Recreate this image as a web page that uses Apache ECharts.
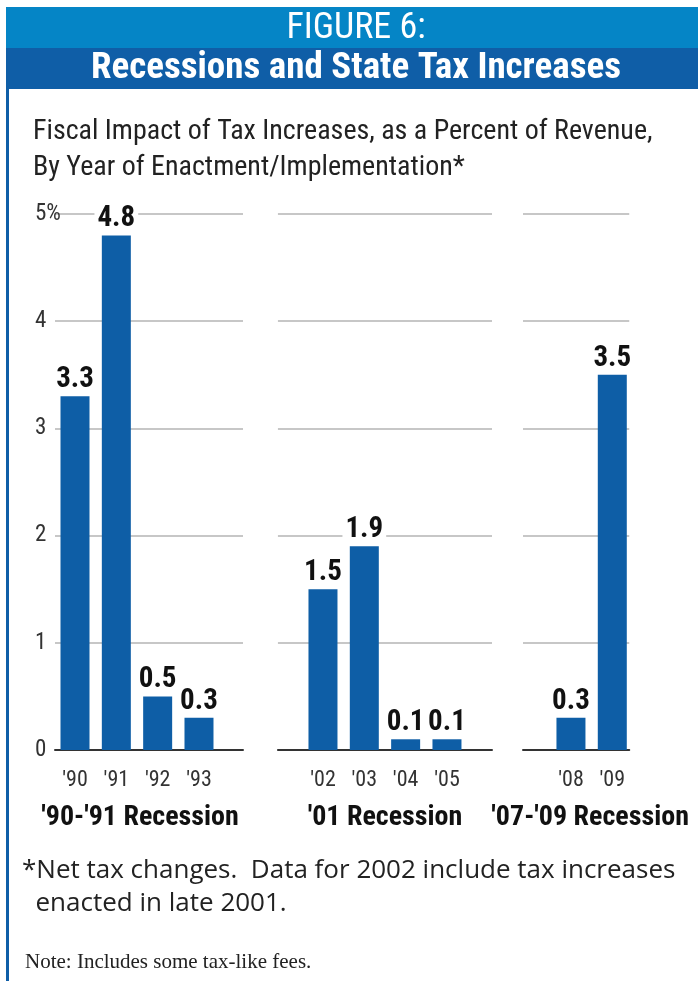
<!DOCTYPE html>
<html>
<head>
<meta charset="utf-8">
<script src="https://cdn.jsdelivr.net/npm/echarts@6/dist/echarts.min.js"></script>
<style>
  html, body { margin: 0; padding: 0; background: #fff; }
  #chart { width: 698px; height: 981px; }
</style>
</head>
<body>
<div id="chart"></div>
<script>
// Recession periods and the enactment years within each
const recessions = ["'90-'91 Recession", "'01 Recession", "'07-'09 Recession"];
const yearsEarly90s = ["'90", "'91", "'92", "'93"];
const years2001 = ["'02", "'03", "'04", "'05"];
const yearsGreat = ["'08", "'09"];

// Fiscal impact of tax increases, % of revenue
const impactEarly90s = [3.3, 4.8, 0.5, 0.3];
const impact2001 = [1.5, 1.9, 0.1, 0.1];
const impactGreat = [0.3, 3.5];

// Value-axis tick labels
const yTicks = [0, 1, 2, 3, 4, 5];

const COND = "'Roboto Condensed', 'DejaVu Sans Condensed', sans-serif";
const SANS = "'Open Sans', Roboto, 'Liberation Sans', sans-serif";
const BAR_COLOR = '#0E5EA6';
const FRAME_BLUE = '#0F5EA7';

// All panels share one slot scale (one slot per year, two empty slots between recessions);
// each panel shows a window of that scale.
const SLOT_PX = 41.33, SLOT0_PX = 75;
const panels = [
  { name: recessions[0], years: yearsEarly90s, values: impactEarly90s, firstSlot: 0,  range: [-0.484, 4.065], namePad: [0, 18, 0, 0] },
  { name: recessions[1], years: years2001,     values: impact2001,     firstSlot: 6,  range: [4.91, 10.09],   namePad: [0, 0, 0, 0] },
  { name: recessions[2], years: yearsGreat,    values: impactGreat,    firstSlot: 12, range: [10.84, 13.41],  namePad: [0, 0, 0, 28] }
];

const GRID_TOP = 214, GRID_BOTTOM = 231;
const HEADER_CENTER_X = 356;

const grids = [], xAxes = [], yAxes = [], series = [];
panels.forEach((p, k) => {
  const slots = p.years.map((_, i) => p.firstSlot + i);
  const labelBySlot = {};
  slots.forEach((s, i) => { labelBySlot[s] = p.years[i]; });

  grids.push({
    left: SLOT0_PX + SLOT_PX * p.range[0],
    width: SLOT_PX * (p.range[1] - p.range[0]),
    top: GRID_TOP,
    bottom: GRID_BOTTOM,
    containLabel: false,
    outerBoundsMode: 'none'
  });

  xAxes.push({
    type: 'value',
    gridIndex: k,
    min: p.range[0],
    max: p.range[1],
    splitLine: { show: false },
    axisTick: { show: false },
    axisLine: { show: true, onZero: true, lineStyle: { color: '#333', width: 2 } },
    axisLabel: {
      customValues: slots,
      formatter: v => labelBySlot[v] || '',
      margin: 19,
      fontFamily: COND,
      fontSize: 22,
      color: '#333'
    },
    name: p.name,
    nameLocation: 'middle',
    nameGap: 54,
    nameTextStyle: {
      fontFamily: COND,
      fontSize: 28,
      fontWeight: 'bold',
      color: '#111',
      padding: p.namePad
    }
  });

  yAxes.push({
    type: 'value',
    gridIndex: k,
    min: yTicks[0],
    max: yTicks[yTicks.length - 1],
    interval: 1,
    axisLine: { show: false },
    axisTick: { show: false },
    splitLine: { show: true, lineStyle: { color: '#b4b4b4', width: 1.5 } },
    axisLabel: {
      show: k === 0,
      align: 'left',
      margin: 20,
      fontFamily: COND,
      fontSize: 23,
      color: '#333',
      formatter: v => (v === yTicks[yTicks.length - 1] ? v + '%' : String(v))
    }
  });

  series.push({
    type: 'bar',
    xAxisIndex: k,
    yAxisIndex: k,
    barWidth: 29,
    itemStyle: { color: BAR_COLOR },
    label: {
      show: true,
      position: 'top',
      distance: 2,
      fontFamily: COND,
      fontSize: 29,
      fontWeight: 'bold',
      color: '#111',
      backgroundColor: '#fff',
      padding: [0, 3, 0, 3],
      formatter: d => d.value[1].toFixed(1)
    },
    data: p.values.map((v, i) => [slots[i], v])
  });
});

const chart = echarts.init(document.getElementById('chart'), null, { renderer: 'canvas' });
chart.setOption({
  animation: false,
  backgroundColor: '#fff',
  graphic: [
    // header bands and the frame's left rule
    { type: 'rect', shape: { x: 6, y: 7, width: 692, height: 41 }, style: { fill: '#0585C6' }, z: 0 },
    { type: 'rect', shape: { x: 6, y: 48, width: 692, height: 41 }, style: { fill: FRAME_BLUE }, z: 0 },
    { type: 'rect', shape: { x: 6, y: 89, width: 3, height: 892 }, style: { fill: FRAME_BLUE }, z: 0 }
  ],
  title: [
    {
      text: 'FIGURE 6:', left: HEADER_CENTER_X, textAlign: 'center', top: 11, padding: 0,
      textStyle: { fontFamily: COND, fontSize: 36, fontWeight: 'normal', color: '#fff' }
    },
    {
      text: 'Recessions and State Tax Increases', left: HEADER_CENTER_X, textAlign: 'center', top: 50, padding: 0,
      textStyle: { fontFamily: COND, fontSize: 37, fontWeight: 'bold', color: '#fff' }
    },
    {
      text: 'Fiscal Impact of Tax Increases, as a Percent of Revenue,\nBy Year of Enactment/Implementation*',
      left: 33, top: 114, padding: 0,
      textStyle: { fontFamily: COND, fontSize: 28, fontWeight: 'normal', color: '#222', lineHeight: 36 }
    },
    {
      text: '*Net tax changes.  Data for 2002 include tax increases\n  enacted in late 2001.',
      left: 22, top: 854, padding: 0,
      textStyle: { fontFamily: SANS, fontSize: 26, fontWeight: 'normal', color: '#222', lineHeight: 33 }
    },
    {
      text: 'Note: Includes some tax-like fees.',
      left: 25, top: 952, padding: 0,
      textStyle: { fontFamily: "'Liberation Serif', 'Times New Roman', serif", fontSize: 21, fontWeight: 'normal', color: '#222' }
    }
  ],
  grid: grids,
  xAxis: xAxes,
  yAxis: yAxes,
  series: series
});
</script>
</body>
</html>
